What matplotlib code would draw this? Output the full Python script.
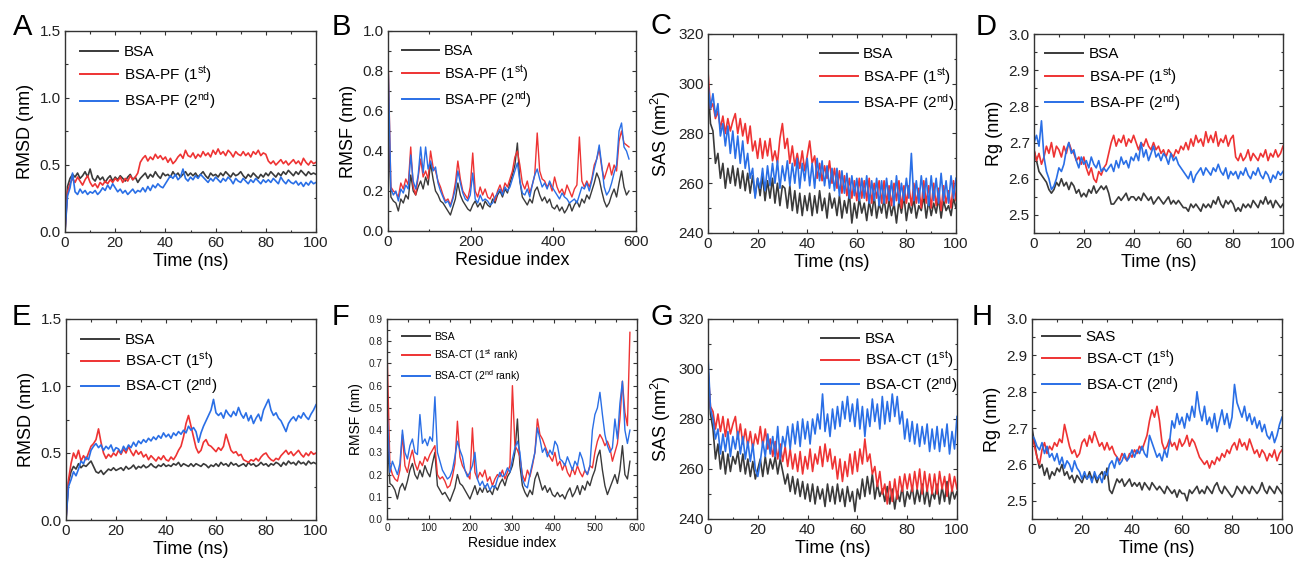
import numpy as np
import matplotlib.pyplot as plt
from matplotlib.ticker import MultipleLocator, FormatStrFormatter

plt.rcParams['font.family'] = ['Liberation Sans', 'DejaVu Sans']
plt.rcParams['mathtext.fontset'] = 'custom'
plt.rcParams['mathtext.rm'] = 'Liberation Sans'
plt.rcParams['mathtext.it'] = 'Liberation Sans:italic'
plt.rcParams['mathtext.bf'] = 'Liberation Sans:bold'

time_ns = np.arange(0, 101)
residue = np.arange(1, 584, 6)

# A: RMSD, BSA vs BSA-PF
rmsd_pf_bsa = [0.00, 0.34, 0.40, 0.43, 0.41, 0.44, 0.40, 0.42, 0.45, 0.41, 0.47,
               0.40, 0.38, 0.42, 0.39, 0.41, 0.37, 0.40, 0.42, 0.38, 0.41,
               0.39, 0.42, 0.40, 0.38, 0.41, 0.43, 0.39, 0.41, 0.37, 0.40,
               0.42, 0.44, 0.40, 0.43, 0.41, 0.45, 0.42, 0.40, 0.44, 0.42,
               0.43, 0.41, 0.45, 0.42, 0.44, 0.41, 0.43, 0.45, 0.42, 0.44,
               0.42, 0.44, 0.41, 0.43, 0.45, 0.42, 0.40, 0.44, 0.42, 0.43,
               0.41, 0.44, 0.42, 0.45, 0.43, 0.41, 0.44, 0.42, 0.43, 0.45,
               0.42, 0.40, 0.43, 0.41, 0.44, 0.42, 0.40, 0.43, 0.41, 0.44,
               0.42, 0.45, 0.43, 0.41, 0.44, 0.42, 0.45, 0.43, 0.46, 0.44,
               0.42, 0.45, 0.43, 0.46, 0.44, 0.42, 0.45, 0.43, 0.44, 0.43]
rmsd_pf_1st = [0.00, 0.30, 0.36, 0.40, 0.37, 0.41, 0.38, 0.35, 0.39, 0.42, 0.37,
               0.34, 0.36, 0.33, 0.37, 0.35, 0.38, 0.36, 0.39, 0.37, 0.40,
               0.38, 0.41, 0.37, 0.40, 0.38, 0.42, 0.39, 0.41, 0.44, 0.52,
               0.55, 0.57, 0.53, 0.56, 0.54, 0.58, 0.55, 0.57, 0.54, 0.56,
               0.52, 0.55, 0.51, 0.53, 0.56, 0.58, 0.55, 0.61, 0.57, 0.56,
               0.59, 0.55, 0.58, 0.56, 0.60, 0.57, 0.59, 0.56, 0.61, 0.58,
               0.62, 0.58, 0.60, 0.57, 0.61, 0.59, 0.56, 0.60, 0.58, 0.57,
               0.60, 0.57, 0.59, 0.56, 0.60, 0.58, 0.61, 0.57, 0.59, 0.58,
               0.53, 0.51, 0.53, 0.50, 0.52, 0.54, 0.51, 0.53, 0.50, 0.52,
               0.54, 0.51, 0.53, 0.50, 0.55, 0.52, 0.50, 0.53, 0.51, 0.52]
rmsd_pf_2nd = [0.00, 0.27, 0.33, 0.44, 0.30, 0.28, 0.32, 0.29, 0.31, 0.28, 0.30,
               0.29, 0.31, 0.28, 0.30, 0.33, 0.31, 0.35, 0.32, 0.36, 0.33,
               0.30, 0.32, 0.29, 0.31, 0.28, 0.30, 0.32, 0.29, 0.31, 0.30,
               0.33, 0.30, 0.34, 0.31, 0.35, 0.33, 0.36, 0.34, 0.33, 0.36,
               0.39, 0.42, 0.40, 0.43, 0.39, 0.41, 0.47, 0.40, 0.38, 0.41,
               0.39, 0.42, 0.40, 0.43, 0.41, 0.39, 0.37, 0.40, 0.38, 0.41,
               0.39, 0.37, 0.40, 0.38, 0.41, 0.39, 0.36, 0.40, 0.38, 0.37,
               0.40, 0.38, 0.36, 0.39, 0.37, 0.40, 0.38, 0.36, 0.39, 0.37,
               0.39, 0.37, 0.40, 0.38, 0.36, 0.41, 0.38, 0.36, 0.39, 0.37,
               0.36, 0.38, 0.35, 0.37, 0.34, 0.37, 0.35, 0.38, 0.36, 0.37]

# B: RMSF, BSA vs BSA-PF
rmsf_pf_bsa = [0.50, 0.17, 0.15, 0.14, 0.10, 0.16, 0.14, 0.18, 0.16, 0.28,
               0.20, 0.18, 0.22, 0.25, 0.21, 0.27, 0.23, 0.34, 0.26, 0.20,
               0.18, 0.15, 0.14, 0.12, 0.10, 0.08, 0.12, 0.16, 0.24, 0.18,
               0.15, 0.13, 0.11, 0.10, 0.13, 0.15, 0.12, 0.14, 0.11, 0.15,
               0.13, 0.12, 0.16, 0.14, 0.18, 0.20, 0.17, 0.21, 0.19, 0.24,
               0.28, 0.33, 0.44, 0.25, 0.17, 0.15, 0.13, 0.16, 0.14, 0.20,
               0.22, 0.18, 0.15, 0.17, 0.14, 0.16, 0.12, 0.11, 0.13, 0.10,
               0.12, 0.09, 0.11, 0.14, 0.10, 0.13, 0.15, 0.12, 0.16, 0.14,
               0.18, 0.16, 0.20, 0.24, 0.29, 0.26, 0.20, 0.15, 0.12, 0.14,
               0.18, 0.21, 0.17, 0.24, 0.30, 0.22, 0.18, 0.20]
rmsf_pf_1st = [0.80, 0.22, 0.20, 0.19, 0.17, 0.24, 0.21, 0.26, 0.23, 0.42,
               0.22, 0.18, 0.27, 0.36, 0.27, 0.30, 0.26, 0.40, 0.32, 0.30,
               0.25, 0.22, 0.18, 0.15, 0.16, 0.13, 0.17, 0.24, 0.35, 0.26,
               0.20, 0.18, 0.16, 0.22, 0.39, 0.20, 0.17, 0.22, 0.18, 0.21,
               0.17, 0.16, 0.19, 0.15, 0.20, 0.23, 0.19, 0.24, 0.22, 0.26,
               0.30, 0.37, 0.40, 0.33, 0.24, 0.21, 0.25, 0.19, 0.23, 0.28,
               0.49, 0.30, 0.26, 0.25, 0.22, 0.24, 0.20, 0.27, 0.22, 0.19,
               0.21, 0.18, 0.23, 0.20, 0.17, 0.21, 0.23, 0.47, 0.25, 0.22,
               0.25, 0.22, 0.26, 0.33, 0.36, 0.41, 0.32, 0.26, 0.30, 0.34,
               0.28, 0.33, 0.30, 0.45, 0.50, 0.44, 0.43, 0.42]
rmsf_pf_2nd = [0.78, 0.21, 0.18, 0.20, 0.15, 0.21, 0.19, 0.23, 0.21, 0.38,
               0.25, 0.21, 0.28, 0.42, 0.29, 0.42, 0.31, 0.35, 0.30, 0.32,
               0.24, 0.20, 0.17, 0.14, 0.15, 0.12, 0.16, 0.21, 0.30, 0.24,
               0.19, 0.16, 0.15, 0.18, 0.29, 0.16, 0.14, 0.18, 0.15, 0.16,
               0.15, 0.13, 0.14, 0.17, 0.19, 0.21, 0.18, 0.22, 0.20, 0.22,
               0.26, 0.30, 0.34, 0.25, 0.19, 0.18, 0.21, 0.17, 0.23, 0.28,
               0.31, 0.26, 0.22, 0.24, 0.21, 0.25, 0.22, 0.20, 0.18, 0.16,
               0.19, 0.17, 0.16, 0.14, 0.15, 0.16, 0.14, 0.18, 0.22, 0.21,
               0.24, 0.20, 0.25, 0.31, 0.36, 0.43, 0.33, 0.22, 0.18, 0.20,
               0.24, 0.29, 0.33, 0.50, 0.54, 0.42, 0.40, 0.36]

# C: SAS, BSA vs BSA-PF
sas_pf_bsa = [300, 284, 281, 268, 272, 262, 268, 258, 266, 260, 267,
              259, 266, 258, 265, 257, 264, 256, 263, 255, 262,
              255, 263, 253, 261, 254, 262, 252, 260, 251, 259,
              258, 250, 259, 249, 257, 248, 256, 247, 255, 249,
              256, 247, 255, 248, 257, 249, 254, 246, 256, 250,
              254, 247, 255, 246, 253, 248, 256, 244, 252, 246,
              254, 248, 252, 245, 253, 247, 255, 246, 252, 248,
              254, 246, 253, 247, 252, 244, 253, 248, 255, 245,
              252, 248, 254, 246, 251, 249, 255, 246, 253, 247,
              252, 248, 254, 246, 253, 249, 251, 247, 254, 250]
sas_pf_1st = [305, 290, 292, 286, 289, 282, 287, 280, 286, 281, 285,
              288, 280, 286, 279, 284, 276, 283, 273, 277, 270,
              278, 270, 277, 271, 278, 269, 273, 268, 278, 284,
              274, 278, 268, 275, 267, 272, 266, 273, 265, 271,
              277, 268, 271, 262, 268, 261, 267, 262, 269, 260,
              266, 258, 265, 256, 263, 255, 262, 254, 261, 253,
              262, 254, 261, 253, 262, 252, 260, 254, 261, 252,
              261, 252, 259, 251, 260, 253, 261, 250, 259, 252,
              259, 251, 260, 252, 258, 250, 261, 252, 259, 250,
              260, 251, 258, 249, 259, 252, 257, 250, 261, 253]
sas_pf_2nd = [300, 290, 296, 287, 292, 279, 284, 275, 283, 272, 281,
              270, 279, 268, 277, 266, 272, 262, 266, 254, 262,
              258, 266, 257, 267, 259, 268, 260, 269, 258, 267,
              261, 269, 259, 268, 260, 270, 258, 268, 261, 270,
              259, 268, 258, 270, 261, 269, 259, 267, 258, 266,
              257, 266, 255, 265, 256, 264, 254, 263, 255, 262,
              253, 262, 254, 263, 252, 261, 253, 262, 251, 261,
              252, 262, 253, 261, 251, 263, 252, 260, 253, 262,
              254, 272, 253, 261, 252, 263, 254, 262, 251, 263,
              253, 262, 252, 264, 253, 261, 252, 263, 254, 262]

# D: Rg, BSA vs BSA-PF
rg_pf_bsa = [2.68, 2.65, 2.62, 2.61, 2.60, 2.59, 2.57, 2.56, 2.57, 2.59, 2.58,
             2.60, 2.58, 2.59, 2.57, 2.59, 2.58, 2.56, 2.57, 2.55, 2.56,
             2.55, 2.57, 2.56, 2.58, 2.56, 2.57, 2.58, 2.57, 2.58, 2.56,
             2.53, 2.53, 2.54, 2.55, 2.54, 2.55, 2.56, 2.54, 2.55, 2.55,
             2.54, 2.55, 2.54, 2.56, 2.55, 2.54, 2.55, 2.53, 2.54, 2.55,
             2.54, 2.53, 2.54, 2.55, 2.53, 2.54, 2.53, 2.54, 2.53, 2.52,
             2.52, 2.51, 2.53, 2.52, 2.53, 2.52, 2.51, 2.53, 2.52, 2.53,
             2.52, 2.54, 2.53, 2.55, 2.53, 2.52, 2.54, 2.53, 2.54, 2.53,
             2.51, 2.52, 2.51, 2.53, 2.52, 2.53, 2.52, 2.54, 2.53, 2.52,
             2.54, 2.53, 2.55, 2.53, 2.54, 2.52, 2.54, 2.53, 2.52, 2.53]
rg_pf_1st = [2.68, 2.65, 2.67, 2.64, 2.66, 2.69, 2.67, 2.70, 2.66, 2.69, 2.68,
             2.66, 2.69, 2.67, 2.70, 2.68, 2.67, 2.65, 2.66, 2.64, 2.66,
             2.63, 2.61, 2.63, 2.60, 2.59, 2.62, 2.61, 2.63, 2.64, 2.67,
             2.70, 2.72, 2.69, 2.71, 2.70, 2.72, 2.69, 2.71, 2.70, 2.72,
             2.70, 2.68, 2.70, 2.69, 2.71, 2.69, 2.68, 2.70, 2.68, 2.69,
             2.67, 2.68, 2.66, 2.68, 2.67, 2.66, 2.68, 2.67, 2.69, 2.68,
             2.70, 2.68, 2.71, 2.69, 2.72, 2.70, 2.71, 2.69, 2.73, 2.70,
             2.72, 2.70, 2.73, 2.69, 2.71, 2.70, 2.72, 2.69, 2.71, 2.72,
             2.66, 2.65, 2.67, 2.65, 2.66, 2.68, 2.65, 2.67, 2.66, 2.65,
             2.67, 2.66, 2.68, 2.65, 2.67, 2.66, 2.68, 2.66, 2.67, 2.69]
rg_pf_2nd = [2.70, 2.72, 2.69, 2.76, 2.66, 2.62, 2.60, 2.57, 2.58, 2.60, 2.63,
             2.62, 2.64, 2.68, 2.70, 2.67, 2.68, 2.65, 2.63, 2.66, 2.64,
             2.65, 2.63, 2.66, 2.64, 2.63, 2.65, 2.62, 2.63, 2.62, 2.63,
             2.64, 2.62, 2.65, 2.63, 2.66, 2.64, 2.65, 2.63, 2.66, 2.65,
             2.67, 2.65, 2.70, 2.66, 2.68, 2.65, 2.67, 2.69, 2.66, 2.67,
             2.65, 2.67, 2.66, 2.64, 2.67, 2.65, 2.66, 2.64, 2.63, 2.62,
             2.61, 2.60, 2.62, 2.59, 2.61, 2.62, 2.63, 2.61, 2.63, 2.62,
             2.61, 2.63, 2.62, 2.64, 2.62, 2.61, 2.63, 2.60, 2.62, 2.61,
             2.62, 2.60, 2.62, 2.61, 2.63, 2.61, 2.60, 2.62, 2.61, 2.63,
             2.61, 2.60, 2.62, 2.61, 2.59, 2.61, 2.60, 2.62, 2.61, 2.62]

# E: RMSD, BSA vs BSA-CT
rmsd_ct_bsa = [0.00, 0.28, 0.36, 0.40, 0.38, 0.42, 0.39, 0.41, 0.40, 0.42, 0.44,
               0.40, 0.36, 0.35, 0.37, 0.34, 0.36, 0.38, 0.37, 0.39, 0.37,
               0.38, 0.39, 0.37, 0.40, 0.38, 0.39, 0.41, 0.38, 0.40, 0.39,
               0.41, 0.39, 0.40, 0.42, 0.40, 0.39, 0.41, 0.40, 0.42, 0.40,
               0.41, 0.40, 0.42, 0.41, 0.43, 0.40, 0.42, 0.41, 0.40, 0.42,
               0.40, 0.42, 0.41, 0.40, 0.42, 0.41, 0.39, 0.41, 0.40, 0.42,
               0.40, 0.43, 0.41, 0.42, 0.40, 0.43, 0.41, 0.42, 0.40, 0.41,
               0.42, 0.40, 0.43, 0.41, 0.42, 0.40, 0.41, 0.43, 0.41, 0.42,
               0.40, 0.42, 0.41, 0.43, 0.42, 0.40, 0.43, 0.41, 0.44, 0.42,
               0.43, 0.41, 0.44, 0.42, 0.43, 0.41, 0.44, 0.42, 0.43, 0.42]
rmsd_ct_1st = [0.00, 0.30, 0.42, 0.50, 0.46, 0.52, 0.44, 0.48, 0.45, 0.50, 0.55,
               0.57, 0.60, 0.68, 0.58, 0.50, 0.46, 0.49, 0.47, 0.50, 0.48,
               0.52, 0.49, 0.53, 0.50, 0.55, 0.51, 0.48, 0.52, 0.49, 0.51,
               0.47, 0.49, 0.45, 0.48, 0.46, 0.44, 0.47, 0.45, 0.48, 0.45,
               0.44, 0.47, 0.45, 0.48, 0.52, 0.55, 0.62, 0.72, 0.78, 0.70,
               0.62, 0.54, 0.50, 0.52, 0.58, 0.60, 0.56, 0.55, 0.53, 0.51,
               0.54, 0.52, 0.55, 0.64, 0.58, 0.52, 0.50, 0.51, 0.48, 0.49,
               0.45, 0.44, 0.43, 0.45, 0.44, 0.46, 0.44, 0.47, 0.49, 0.50,
               0.47, 0.45, 0.44, 0.46, 0.45, 0.48, 0.50, 0.52, 0.49, 0.51,
               0.48, 0.50, 0.52, 0.49, 0.47, 0.50, 0.48, 0.51, 0.49, 0.50]
rmsd_ct_2nd = [0.00, 0.25, 0.30, 0.36, 0.33, 0.38, 0.44, 0.42, 0.47, 0.45, 0.52,
               0.55, 0.57, 0.54, 0.56, 0.52, 0.55, 0.53, 0.56, 0.51, 0.54,
               0.53, 0.50, 0.55, 0.52, 0.56, 0.54, 0.58, 0.55, 0.59, 0.57,
               0.60, 0.58, 0.61, 0.59, 0.62, 0.60, 0.63, 0.61, 0.65, 0.62,
               0.64, 0.61, 0.65, 0.63, 0.66, 0.64, 0.67, 0.65, 0.70, 0.67,
               0.69, 0.66, 0.58, 0.65, 0.70, 0.74, 0.78, 0.82, 0.90, 0.80,
               0.78, 0.80, 0.76, 0.82, 0.79, 0.77, 0.81, 0.78, 0.84, 0.79,
               0.76, 0.80, 0.74, 0.78, 0.72, 0.76, 0.79, 0.74, 0.82, 0.86,
               0.90, 0.82, 0.78, 0.80, 0.76, 0.74, 0.70, 0.66, 0.72, 0.75,
               0.77, 0.74, 0.78, 0.76, 0.80, 0.77, 0.75, 0.79, 0.82, 0.86]

# F: RMSF, BSA vs BSA-CT
rmsf_ct_bsa = [0.36, 0.16, 0.15, 0.13, 0.09, 0.14, 0.16, 0.13, 0.17, 0.22,
               0.25, 0.20, 0.18, 0.22, 0.19, 0.24, 0.21, 0.19, 0.25, 0.30,
               0.15, 0.13, 0.11, 0.12, 0.10, 0.08, 0.11, 0.14, 0.20, 0.16,
               0.15, 0.13, 0.11, 0.09, 0.12, 0.15, 0.11, 0.14, 0.12, 0.15,
               0.12, 0.13, 0.11, 0.15, 0.13, 0.16, 0.18, 0.15, 0.19, 0.21,
               0.24, 0.30, 0.45, 0.24, 0.15, 0.12, 0.10, 0.13, 0.11, 0.18,
               0.21, 0.17, 0.13, 0.15, 0.12, 0.14, 0.11, 0.10, 0.12, 0.10,
               0.11, 0.09, 0.12, 0.14, 0.10, 0.12, 0.15, 0.11, 0.15, 0.13,
               0.17, 0.15, 0.19, 0.22, 0.28, 0.31, 0.22, 0.15, 0.11, 0.14,
               0.17, 0.20, 0.16, 0.22, 0.33, 0.20, 0.18, 0.26]
rmsf_ct_1st = [0.70, 0.24, 0.20, 0.18, 0.17, 0.22, 0.38, 0.24, 0.21, 0.27,
               0.31, 0.25, 0.22, 0.26, 0.24, 0.28, 0.26, 0.29, 0.31, 0.33,
               0.20, 0.18, 0.19, 0.17, 0.14, 0.15, 0.19, 0.25, 0.44, 0.28,
               0.24, 0.22, 0.20, 0.18, 0.41, 0.21, 0.18, 0.21, 0.19, 0.22,
               0.17, 0.19, 0.15, 0.18, 0.20, 0.19, 0.22, 0.18, 0.21, 0.24,
               0.60, 0.33, 0.31, 0.28, 0.20, 0.17, 0.22, 0.19, 0.24, 0.30,
               0.45, 0.38, 0.36, 0.33, 0.30, 0.28, 0.26, 0.30, 0.24, 0.26,
               0.22, 0.25, 0.21, 0.19, 0.23, 0.20, 0.24, 0.21, 0.19, 0.22,
               0.20, 0.24, 0.23, 0.30, 0.35, 0.38, 0.36, 0.33, 0.35, 0.32,
               0.26, 0.30, 0.34, 0.45, 0.62, 0.48, 0.42, 0.84]
rmsf_ct_2nd = [0.46, 0.21, 0.26, 0.23, 0.20, 0.25, 0.40, 0.30, 0.27, 0.33,
               0.36, 0.30, 0.29, 0.47, 0.34, 0.36, 0.33, 0.37, 0.35, 0.55,
               0.30, 0.26, 0.22, 0.20, 0.18, 0.19, 0.22, 0.28, 0.35, 0.31,
               0.28, 0.22, 0.19, 0.21, 0.24, 0.30, 0.18, 0.15, 0.17, 0.14,
               0.16, 0.13, 0.15, 0.14, 0.18, 0.21, 0.19, 0.20, 0.23, 0.21,
               0.27, 0.32, 0.35, 0.30, 0.18, 0.15, 0.14, 0.20, 0.25, 0.30,
               0.41, 0.36, 0.30, 0.32, 0.28, 0.31, 0.29, 0.35, 0.33, 0.27,
               0.26, 0.24, 0.28, 0.25, 0.22, 0.26, 0.24, 0.30, 0.27, 0.22,
               0.20, 0.24, 0.40, 0.47, 0.50, 0.57, 0.47, 0.38, 0.33, 0.30,
               0.32, 0.45, 0.36, 0.52, 0.62, 0.40, 0.34, 0.40]

# G: SAS, BSA vs BSA-CT
sas_ct_bsa = [300, 282, 276, 264, 270, 260, 267, 258, 266, 259, 265,
              262, 267, 259, 266, 258, 264, 257, 263, 256, 260,
              264, 257, 265, 258, 264, 260, 265, 258, 264, 259,
              254, 258, 251, 257, 250, 256, 249, 255, 248, 254,
              247, 254, 246, 253, 248, 252, 245, 254, 247, 253,
              246, 254, 247, 252, 245, 253, 247, 251, 243, 252,
              248, 256, 249, 257, 250, 258, 248, 254, 249, 252,
              247, 253, 246, 252, 244, 251, 247, 253, 245, 251,
              248, 253, 246, 252, 247, 254, 246, 252, 245, 251,
              248, 254, 246, 253, 247, 255, 246, 252, 248, 251]
sas_ct_1st = [300, 285, 283, 276, 282, 275, 281, 273, 280, 274, 278,
              281, 272, 278, 270, 276, 269, 275, 268, 274, 270,
              277, 269, 276, 268, 272, 265, 271, 264, 270, 263,
              269, 261, 268, 260, 266, 259, 267, 258, 265, 260,
              268, 259, 266, 262, 269, 261, 270, 263, 268, 260,
              265, 256, 264, 255, 263, 257, 266, 258, 267, 259,
              268, 262, 272, 263, 266, 258, 261, 253, 259, 250,
              254, 246, 255, 247, 256, 248, 257, 251, 258, 252,
              258, 251, 259, 252, 260, 250, 259, 251, 258, 250,
              258, 250, 259, 252, 257, 249, 258, 251, 257, 252]
sas_ct_2nd = [305, 284, 280, 272, 276, 266, 274, 267, 275, 265, 273,
              268, 275, 266, 273, 264, 271, 263, 270, 260, 257,
              263, 271, 265, 274, 266, 273, 265, 277, 264, 273,
              269, 277, 268, 278, 270, 279, 269, 280, 272, 279,
              270, 280, 274, 282, 276, 290, 275, 282, 273, 284,
              276, 285, 277, 287, 280, 289, 279, 286, 277, 288,
              276, 285, 273, 284, 277, 288, 279, 286, 276, 289,
              278, 287, 279, 290, 281, 289, 278, 283, 272, 280,
              271, 279, 270, 278, 269, 277, 270, 278, 267, 276,
              268, 277, 267, 276, 269, 278, 266, 275, 268, 281]

# H: Rg, BSA vs BSA-CT
rg_ct_bsa = [2.70, 2.66, 2.62, 2.59, 2.60, 2.57, 2.59, 2.56, 2.58, 2.57, 2.59,
             2.58, 2.60, 2.57, 2.58, 2.56, 2.57, 2.55, 2.57, 2.56, 2.55,
             2.57, 2.56, 2.58, 2.56, 2.57, 2.55, 2.57, 2.58, 2.56, 2.59,
             2.53, 2.52, 2.54, 2.56, 2.55, 2.56, 2.54, 2.55, 2.56, 2.54,
             2.55, 2.54, 2.55, 2.53, 2.55, 2.54, 2.53, 2.55, 2.54, 2.53,
             2.54, 2.53, 2.52, 2.54, 2.53, 2.52, 2.53, 2.51, 2.53, 2.52,
             2.52, 2.50, 2.53, 2.52, 2.53, 2.54, 2.52, 2.53, 2.52, 2.54,
             2.53, 2.52, 2.54, 2.55, 2.53, 2.52, 2.54, 2.53, 2.52, 2.51,
             2.52, 2.54, 2.53, 2.52, 2.54, 2.53, 2.52, 2.54, 2.53, 2.52,
             2.53, 2.55, 2.53, 2.52, 2.54, 2.53, 2.52, 2.54, 2.53, 2.52]
rg_ct_1st = [2.68, 2.65, 2.62, 2.60, 2.64, 2.66, 2.63, 2.65, 2.64, 2.66, 2.65,
             2.67, 2.66, 2.71, 2.68, 2.65, 2.63, 2.64, 2.62, 2.63, 2.66,
             2.67, 2.65, 2.68, 2.66, 2.69, 2.67, 2.65, 2.66, 2.64, 2.66,
             2.64, 2.65, 2.63, 2.62, 2.61, 2.63, 2.62, 2.61, 2.63, 2.62,
             2.64, 2.63, 2.65, 2.64, 2.66, 2.68, 2.72, 2.75, 2.73, 2.76,
             2.72, 2.66, 2.64, 2.65, 2.67, 2.65, 2.66, 2.64, 2.67, 2.65,
             2.66, 2.68, 2.65, 2.67, 2.66, 2.64, 2.62, 2.61, 2.60, 2.61,
             2.59, 2.61, 2.60, 2.62, 2.61, 2.63, 2.62, 2.64, 2.63, 2.65,
             2.66, 2.64, 2.67, 2.65, 2.66, 2.64, 2.67, 2.65, 2.63, 2.64,
             2.62, 2.64, 2.63, 2.61, 2.63, 2.62, 2.64, 2.61, 2.63, 2.64]
rg_ct_2nd = [2.68, 2.67, 2.65, 2.64, 2.66, 2.63, 2.65, 2.62, 2.63, 2.61, 2.63,
             2.60, 2.62, 2.59, 2.61, 2.60, 2.58, 2.61, 2.59, 2.58, 2.56,
             2.58, 2.56, 2.57, 2.55, 2.58, 2.56, 2.57, 2.55, 2.58, 2.57,
             2.60, 2.61, 2.59, 2.62, 2.60, 2.61, 2.63, 2.61, 2.62, 2.64,
             2.62, 2.64, 2.63, 2.65, 2.63, 2.62, 2.68, 2.66, 2.64, 2.62,
             2.63, 2.61, 2.64, 2.62, 2.66, 2.72, 2.70, 2.74, 2.71, 2.73,
             2.70, 2.74, 2.72, 2.76, 2.73, 2.80, 2.75, 2.72, 2.76, 2.71,
             2.73, 2.70, 2.74, 2.69, 2.72, 2.75, 2.71, 2.74, 2.70, 2.73,
             2.82, 2.77, 2.75, 2.73, 2.76, 2.72, 2.74, 2.71, 2.73, 2.70,
             2.72, 2.69, 2.71, 2.68, 2.67, 2.69, 2.66, 2.68, 2.71, 2.73]

labels_pf = ['BSA', r'BSA-PF (1$^{\mathrm{st}}$)', r'BSA-PF (2$^{\mathrm{nd}}$)']
labels_ct = ['BSA', r'BSA-CT (1$^{\mathrm{st}}$)', r'BSA-CT (2$^{\mathrm{nd}}$)']
labels_ct_rank = ['BSA', r'BSA-CT (1$^{\mathrm{st}}$ rank)', r'BSA-CT (2$^{\mathrm{nd}}$ rank)']
labels_ct_h = ['SAS', r'BSA-CT (1$^{\mathrm{st}}$)', r'BSA-CT (2$^{\mathrm{nd}}$)']

COLORS = ['#3a3a3a', '#ee3333', '#2a6fe6']
W, H = 1300, 564


def px_rect(left, top, right, bottom):
    # pixel box -> figure fraction
    return [left / W, 1 - bottom / H, (right - left) / W, (bottom - top) / H]


def draw_panel(fig, rect, x, series, labels, xlim, xticks, ylim, yticks,
               xlabel, ylabel, yfmt, leg_xy, fs_tick=11, fs_label=13,
               fs_leg=11, handlelen=2.5, labelspacing=0.35, lw=1.2):
    ax = fig.add_axes(px_rect(*rect))
    for y, c, lab in zip(series, COLORS, labels):
        ax.plot(x, y, color=c, lw=lw, label=lab)
    ax.set_xlim(*xlim)
    ax.set_ylim(*ylim)
    ax.xaxis.set_major_locator(MultipleLocator(xticks[0]))
    ax.xaxis.set_minor_locator(MultipleLocator(xticks[1]))
    ax.yaxis.set_major_locator(MultipleLocator(yticks[0]))
    ax.yaxis.set_minor_locator(MultipleLocator(yticks[1]))
    ax.yaxis.set_major_formatter(FormatStrFormatter(yfmt))
    ax.tick_params(which='both', direction='in', top=True, right=True,
                   width=0.8, colors='#333333', labelcolor='#222222',
                   labelsize=fs_tick, pad=3)
    ax.tick_params(which='major', length=3)
    ax.tick_params(which='minor', length=1.8)
    for s in ax.spines.values():
        s.set_color('#333333')
        s.set_linewidth(1.0)
    ax.set_xlabel(xlabel, fontsize=fs_label, labelpad=2)
    ax.set_ylabel(ylabel, fontsize=fs_label, labelpad=4)
    leg = ax.legend(loc='upper left', bbox_to_anchor=leg_xy, frameon=False,
                    fontsize=fs_leg, handlelength=handlelen, handletextpad=0.35,
                    labelspacing=labelspacing, borderpad=0, borderaxespad=0)
    for ln in leg.get_lines():
        ln.set_linewidth(1.4)
    return ax


fig = plt.figure(figsize=(W / 100, H / 100), dpi=100)

# top row: BSA-PF
draw_panel(fig, (65, 31, 316, 232), time_ns, [rmsd_pf_bsa, rmsd_pf_1st, rmsd_pf_2nd],
           labels_pf, (0, 100), (20, 10), (0, 1.5), (0.5, 0.25),
           'Time (ns)', 'RMSD (nm)', '%.1f', (0.06, 0.93))
draw_panel(fig, (388, 31, 636, 231), residue, [rmsf_pf_bsa, rmsf_pf_1st, rmsf_pf_2nd],
           labels_pf, (0, 600), (200, 100), (0, 1.0), (0.2, 0.1),
           'Residue index', 'RMSF (nm)', '%.1f', (0.057, 0.935), fs_leg=10.5, lw=1.0)
draw_panel(fig, (708, 34, 956, 233), time_ns, [sas_pf_bsa, sas_pf_1st, sas_pf_2nd],
           labels_pf, (0, 100), (20, 10), (240, 320), (20, 10),
           'Time (ns)', r'SAS (nm$^2$)', '%d', (0.45, 0.935))
draw_panel(fig, (1034, 34, 1283, 233), time_ns, [rg_pf_bsa, rg_pf_1st, rg_pf_2nd],
           labels_pf, (0, 100), (20, 10), (2.45, 3.0), (0.1, 0.05),
           'Time (ns)', 'Rg (nm)', '%.1f', (0.045, 0.935))

# bottom row: BSA-CT
draw_panel(fig, (66, 319, 316, 520), time_ns, [rmsd_ct_bsa, rmsd_ct_1st, rmsd_ct_2nd],
           labels_ct, (0, 100), (20, 10), (0, 1.5), (0.5, 0.25),
           'Time (ns)', 'RMSD (nm)', '%.1f', (0.06, 0.93), labelspacing=0.25)
draw_panel(fig, (387, 319, 637, 519), residue, [rmsf_ct_bsa, rmsf_ct_1st, rmsf_ct_2nd],
           labels_ct_rank, (0, 600), (100, 50), (0, 0.9), (0.1, 0.05),
           'Residue index', 'RMSF (nm)', '%.1f', (0.06, 0.935),
           fs_tick=7.3, fs_label=10, fs_leg=7.5, handlelen=2.7, labelspacing=0.5, lw=1.0)
draw_panel(fig, (708, 319, 957, 519), time_ns, [sas_ct_bsa, sas_ct_1st, sas_ct_2nd],
           labels_ct, (0, 100), (20, 10), (240, 320), (20, 10),
           'Time (ns)', r'SAS (nm$^2$)', '%d', (0.455, 0.935), labelspacing=0.25)
draw_panel(fig, (1032, 319, 1282, 519), time_ns, [rg_ct_bsa, rg_ct_1st, rg_ct_2nd],
           labels_ct_h, (0, 100), (20, 10), (2.45, 3.0), (0.1, 0.05),
           'Time (ns)', 'Rg (nm)', '%.1f', (0.04, 0.945), labelspacing=0.3)

# panel letters
for letter, (px, py) in zip('ABCDEFGH', [(13, 35), (332, 35), (651, 34), (976, 35),
                                         (12, 325), (332, 325), (650, 325), (972, 325)]):
    fig.text(px / W, 1 - py / H, letter, fontsize=21, va='baseline', ha='left')

fig.savefig('out.png', dpi=100)
plt.close(fig)
